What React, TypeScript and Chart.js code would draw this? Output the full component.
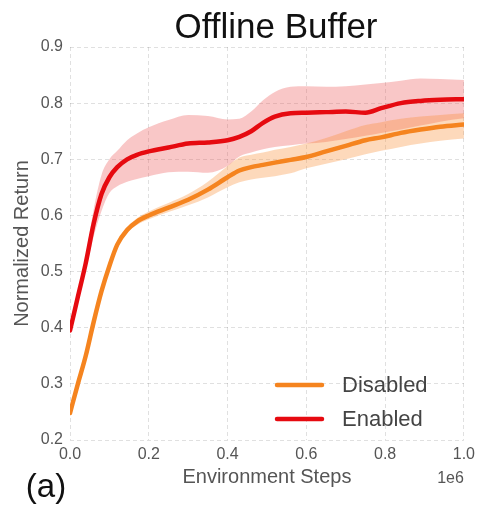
import React, { useEffect, useRef } from "react";
import { Chart, registerables } from "chart.js";

Chart.register(...registerables);

// Environment steps (in units of 1e6)
const STEPS = [0, 0.02, 0.04, 0.06, 0.08, 0.1, 0.12, 0.145, 0.17, 0.2, 0.25, 0.3, 0.35, 0.4, 0.43, 0.46, 0.49, 0.52, 0.56, 0.6, 0.65, 0.7, 0.75, 0.79, 0.84, 0.89, 0.94, 1.0];

const SERIES_LABELS = ["Disabled", "Enabled"];

const DISABLED_MEAN = [0.248, 0.3, 0.35, 0.41, 0.465, 0.51, 0.548, 0.574, 0.589, 0.6, 0.614, 0.628, 0.646, 0.668, 0.68, 0.686, 0.69, 0.694, 0.699, 0.704, 0.714, 0.724, 0.734, 0.739, 0.747, 0.753, 0.758, 0.762];
const DISABLED_UPPER = [0.252, 0.304, 0.354, 0.414, 0.469, 0.514, 0.553, 0.579, 0.595, 0.607, 0.622, 0.638, 0.66, 0.688, 0.703, 0.708, 0.712, 0.717, 0.722, 0.728, 0.738, 0.75, 0.761, 0.766, 0.772, 0.776, 0.779, 0.782];
const DISABLED_LOWER = [0.244, 0.296, 0.346, 0.406, 0.461, 0.506, 0.543, 0.569, 0.583, 0.593, 0.606, 0.618, 0.632, 0.65, 0.659, 0.664, 0.667, 0.67, 0.675, 0.684, 0.692, 0.7, 0.709, 0.715, 0.722, 0.728, 0.733, 0.737];

const ENABLED_MEAN = [0.395, 0.455, 0.515, 0.585, 0.638, 0.668, 0.686, 0.7, 0.708, 0.714, 0.721, 0.728, 0.73, 0.734, 0.74, 0.75, 0.765, 0.776, 0.782, 0.783, 0.784, 0.785, 0.783, 0.791, 0.8, 0.804, 0.806, 0.807];
const ENABLED_UPPER = [0.4, 0.462, 0.528, 0.61, 0.672, 0.7, 0.715, 0.734, 0.746, 0.757, 0.77, 0.779, 0.777, 0.771, 0.772, 0.785, 0.805, 0.82, 0.829, 0.83, 0.829, 0.83, 0.833, 0.836, 0.84, 0.844, 0.843, 0.841];
const ENABLED_LOWER = [0.39, 0.448, 0.503, 0.562, 0.608, 0.64, 0.652, 0.66, 0.665, 0.67, 0.677, 0.678, 0.676, 0.688, 0.705, 0.712, 0.718, 0.722, 0.725, 0.728, 0.731, 0.736, 0.742, 0.747, 0.753, 0.76, 0.767, 0.773];

const X_TICKS = [0, 0.2, 0.4, 0.6, 0.8, 1.0];
const Y_TICKS = [0.2, 0.3, 0.4, 0.5, 0.6, 0.7, 0.8, 0.9];

const ORANGE = "#f5841f";
const RED = "#e60a10";
const ORANGE_FILL = "rgba(248,140,50,0.33)";
const RED_FILL = "rgba(236,80,80,0.32)";

const FONT = "'Liberation Sans', Arial, sans-serif";

const pts = (ys: number[]) => STEPS.map((x, i) => ({ x, y: ys[i] }));

const lineStyle = (color: string) => ({
  borderColor: color,
  backgroundColor: color,
  borderWidth: 4.5,
  pointRadius: 0,
  fill: false,
  cubicInterpolationMode: "monotone" as const,
  borderCapStyle: "round" as const,
  borderJoinStyle: "round" as const,
});

const bandStyle = (color: string) => ({
  borderWidth: 0,
  borderColor: "transparent",
  backgroundColor: color,
  pointRadius: 0,
  cubicInterpolationMode: "monotone" as const,
});

// Title, panel tag, exponent note and the in-plot legend
const annotations = {
  id: "annotations",
  afterDraw(chart: Chart) {
    const { ctx, chartArea } = chart;
    ctx.save();
    ctx.textBaseline = "alphabetic";
    ctx.textAlign = "center";
    ctx.fillStyle = "#111";
    ctx.font = `35px ${FONT}`;
    ctx.fillText("Offline Buffer", 276, 38);

    ctx.font = `33px ${FONT}`;
    ctx.fillStyle = "#111";
    ctx.fillText("(a)", 46, 497);

    ctx.font = `16px ${FONT}`;
    ctx.fillStyle = "#555";
    ctx.textAlign = "right";
    ctx.fillText("1e6", chartArea.right, 483);

    const entries = [
      { label: SERIES_LABELS[0], color: ORANGE, y: 385 },
      { label: SERIES_LABELS[1], color: RED, y: 419 },
    ];
    ctx.font = `22px ${FONT}`;
    ctx.textAlign = "left";
    ctx.textBaseline = "middle";
    for (const e of entries) {
      ctx.strokeStyle = e.color;
      ctx.lineWidth = 4.5;
      ctx.lineCap = "round";
      ctx.beginPath();
      ctx.moveTo(277, e.y);
      ctx.lineTo(322, e.y);
      ctx.stroke();
      ctx.fillStyle = "#444";
      ctx.fillText(e.label, 342, e.y + 1);
    }
    ctx.restore();
  },
};

export default function App() {
  const ref = useRef<HTMLCanvasElement | null>(null);

  useEffect(() => {
    if (!ref.current) return;
    const chart = new Chart(ref.current, {
      type: "line",
      data: {
        datasets: [
          { label: SERIES_LABELS[1], data: pts(ENABLED_MEAN), ...lineStyle(RED) },
          { label: SERIES_LABELS[0], data: pts(DISABLED_MEAN), ...lineStyle(ORANGE) },
          { label: "Disabled upper", data: pts(DISABLED_UPPER), ...bandStyle(ORANGE_FILL), fill: "+1" },
          { label: "Disabled lower", data: pts(DISABLED_LOWER), ...bandStyle(ORANGE_FILL), fill: false },
          { label: "Enabled upper", data: pts(ENABLED_UPPER), ...bandStyle(RED_FILL), fill: "+1" },
          { label: "Enabled lower", data: pts(ENABLED_LOWER), ...bandStyle(RED_FILL), fill: false },
        ],
      },
      options: {
        responsive: false,
        animation: false,
        events: [],
        layout: { padding: { top: 47, right: 16, left: 0, bottom: 0 } },
        plugins: {
          legend: { display: false },
          tooltip: { enabled: false },
          title: { display: false },
        },
        scales: {
          x: {
            type: "linear",
            min: 0,
            max: 1,
            afterFit(scale: any) {
              scale.height = 72;
            },
            afterBuildTicks(scale: any) {
              scale.ticks = X_TICKS.map((v) => ({ value: v }));
            },
            ticks: {
              padding: 5,
              color: "#555",
              font: { family: FONT, size: 16 },
              maxRotation: 0,
              callback: (v: any) => Number(v).toFixed(1),
            },
            grid: { color: "rgba(0,0,0,0.12)", lineWidth: 1, drawTicks: false },
            border: { display: false, dash: [4, 3] },
            title: {
              display: true,
              text: "Environment Steps",
              color: "#555",
              font: { family: FONT, size: 20 },
              padding: { top: 0, bottom: 23 },
            },
          },
          y: {
            type: "linear",
            min: 0.2,
            max: 0.9,
            afterFit(scale: any) {
              scale.width = 70;
            },
            afterBuildTicks(scale: any) {
              scale.ticks = Y_TICKS.map((v) => ({ value: v }));
            },
            ticks: {
              padding: 7,
              color: "#555",
              font: { family: FONT, size: 16 },
              callback: (v: any) => Number(v).toFixed(1),
            },
            grid: { color: "rgba(0,0,0,0.12)", lineWidth: 1, drawTicks: false },
            border: { display: false, dash: [4, 3] },
            title: {
              display: true,
              text: "Normalized Return",
              color: "#555",
              font: { family: FONT, size: 20 },
              padding: { top: 10, bottom: 0 },
            },
          },
        },
      },
      plugins: [annotations],
    });
    return () => chart.destroy();
  }, []);

  return (
    <div style={{ position: "absolute", left: 0, top: 0, width: 480, height: 512, background: "#fff" }}>
      <canvas ref={ref} width={480} height={512} />
    </div>
  );
}
